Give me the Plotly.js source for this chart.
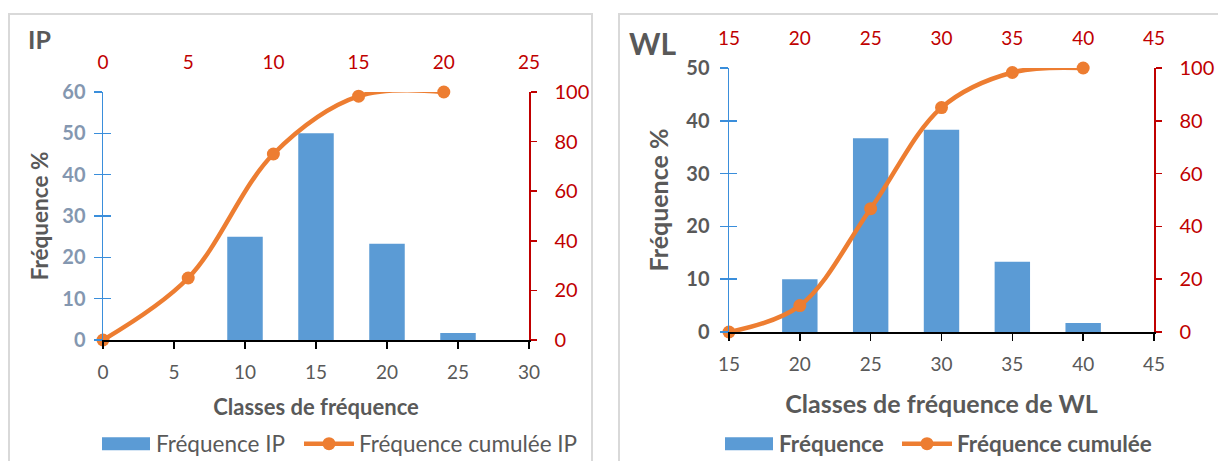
<!DOCTYPE html>
<html>
<head>
<meta charset="utf-8">
<script src="https://cdn.plot.ly/plotly-3.0.1.min.js"></script>
<style>
  html, body { margin: 0; padding: 0; background: #ffffff; }
  #chart { width: 1218px; height: 461px; }
</style>
</head>
<body>
<div id="chart"></div>
<script>
// ---- IP panel data ----
const ipClasses = [10, 15, 20, 25];
const ipFreq = [25, 50, 23.3, 1.7];
const ipCumX = [0, 5, 10, 15, 20];
const ipCum = [0, 25, 75, 98.3, 100];

// ---- WL panel data ----
const wlClasses = [20, 25, 30, 35, 40];
const wlFreq = [10, 36.7, 38.3, 13.3, 1.7];
const wlCumX = [15, 20, 25, 30, 35, 40];
const wlCum = [0, 10, 46.7, 85, 98.3, 100];

// ---- labels ----
const ipBarName = 'Fréquence IP';
const ipLineName = 'Fréquence cumulée IP';
const wlBarName = 'Fréquence';
const wlLineName = 'Fréquence cumulée';

const FONT = 'Lato, "Open Sans", sans-serif';
const GRAY = '#595959';
const RED = '#C00000';
const BLUE_AX = '#3A8EDB';
const BAR = '#5B9BD5';
const ORANGE = '#ED7D31';
const W = 1218, H = 461;
const px = v => v / W;
const py = v => 1 - v / H;

const traces = [
  { type: 'bar', x: ipClasses, y: ipFreq, width: 2.5, xaxis: 'x', yaxis: 'y',
    name: ipBarName, marker: { color: BAR }, legend: 'legend' },
  { type: 'scatter', mode: 'lines+markers', x: ipCumX, y: ipCum, xaxis: 'x2', yaxis: 'y2',
    name: ipLineName, line: { color: ORANGE, width: 4.5, shape: 'spline', smoothing: 1 },
    marker: { color: ORANGE, size: 13 }, cliponaxis: false, legend: 'legend2' },
  { type: 'bar', x: wlClasses, y: wlFreq, width: 2.5, xaxis: 'x3', yaxis: 'y3',
    name: wlBarName, marker: { color: BAR }, legend: 'legend3' },
  { type: 'scatter', mode: 'lines+markers', x: wlCumX, y: wlCum, xaxis: 'x4', yaxis: 'y4',
    name: wlLineName, line: { color: ORANGE, width: 4.5, shape: 'spline', smoothing: 1 },
    marker: { color: ORANGE, size: 13 }, cliponaxis: false, legend: 'legend4' },
  // empty helpers so the inner tick halves are drawn
  { type: 'scatter', x: [], y: [], xaxis: 'x', yaxis: 'y5', showlegend: false, hoverinfo: 'skip' },
  { type: 'scatter', x: [], y: [], xaxis: 'x3', yaxis: 'y6', showlegend: false, hoverinfo: 'skip' }
];

const domL = [px(103), px(529)];
const domLy = [py(340), py(92)];
const domR = [px(729), px(1154)];
const domRy = [py(332), py(68)];

function bottomAxis(dom, range, titleText, anchor, tsize, tstand) {
  return {
    domain: dom, range: range, anchor: anchor, tick0: 0, dtick: 5,
    showgrid: false, zeroline: false, showline: true, linecolor: '#000000', linewidth: 1.5,
    ticks: 'outside', ticklen: 7, tickwidth: 1.5, tickcolor: '#000000',
    tickfont: { family: FONT, size: 19, color: GRAY }, ticklabelstandoff: 8,
    title: { text: titleText, font: { family: FONT, size: tsize, color: GRAY, weight: 'bold' }, standoff: tstand },
    fixedrange: true
  };
}
function topAxis(over, range, anchor) {
  return {
    overlaying: over, side: 'top', anchor: anchor, range: range, tick0: 0, dtick: 5,
    showgrid: false, zeroline: false, showline: false, ticks: '',
    tickfont: { family: FONT, size: 19, color: RED }, ticklabelstandoff: 18,
    fixedrange: true
  };
}
function rightAxis(over, anchor) {
  return {
    overlaying: over, side: 'right', anchor: anchor, range: [0, 100], dtick: 20,
    showgrid: false, zeroline: false, showline: true, linecolor: RED, linewidth: 1.5,
    ticks: 'outside', ticklen: 6, tickwidth: 1.5, tickcolor: RED,
    tickfont: { family: FONT, size: 20, color: RED }, ticklabelstandoff: 14,
    fixedrange: true
  };
}
function crossAxis(over, anchor, range) {
  return {
    overlaying: over, side: 'left', anchor: anchor, range: range, dtick: 10,
    showgrid: false, zeroline: false, showline: false, showticklabels: false,
    ticks: 'inside', ticklen: 8, tickwidth: 1.5, tickcolor: BLUE_AX, fixedrange: true
  };
}
function legendAt(xpx, bold) {
  return {
    orientation: 'h', x: px(xpx), xanchor: 'left', y: py(444), yanchor: 'middle',
    font: { family: FONT, size: 22.5, color: GRAY, weight: bold ? 'bold' : 'normal' },
    bgcolor: 'rgba(0,0,0,0)', itemwidth: 50
  };
}

const layout = {
  width: W, height: H,
  margin: { l: 0, r: 0, t: 0, b: 0, autoexpand: false },
  paper_bgcolor: '#ffffff', plot_bgcolor: 'rgba(0,0,0,0)',
  font: { family: FONT, color: GRAY },
  barmode: 'overlay',
  xaxis: bottomAxis(domL, [0, 30], 'Classes de fréquence', 'y', 22, 17),
  xaxis2: topAxis('x', [0, 25], 'y'),
  yaxis: {
    domain: domLy, range: [0, 60], dtick: 10, anchor: 'x',
    showgrid: false, zeroline: false, showline: true, linecolor: BLUE_AX, linewidth: 1.5,
    ticks: 'outside', ticklen: 8, tickwidth: 1.5, tickcolor: BLUE_AX,
    tickfont: { family: FONT, size: 20, color: '#8497B0', weight: 'bold' }, ticklabelstandoff: 4,
    title: { text: 'Fréquence %', font: { family: FONT, size: 22.5, color: GRAY, weight: 'bold' }, standoff: 7 },
    fixedrange: true
  },
  yaxis2: rightAxis('y', 'x'),
  yaxis5: crossAxis('y', 'x', [0, 60]),
  xaxis3: bottomAxis(domR, [15, 45], 'Classes de fréquence de WL', 'y3', 25, 21),
  xaxis4: topAxis('x3', [15, 45], 'y3'),
  yaxis3: {
    domain: domRy, range: [0, 50], dtick: 10, anchor: 'x3',
    showgrid: false, zeroline: false, showline: true, linecolor: BLUE_AX, linewidth: 1.5,
    ticks: 'outside', ticklen: 8, tickwidth: 1.5, tickcolor: BLUE_AX,
    tickfont: { family: FONT, size: 20, color: GRAY, weight: 'bold' }, ticklabelstandoff: 6,
    title: { text: 'Fréquence %', font: { family: FONT, size: 25, color: GRAY, weight: 'bold' }, standoff: 10 },
    fixedrange: true
  },
  yaxis4: rightAxis('y3', 'x3'),
  yaxis6: crossAxis('y3', 'x3', [0, 50]),
  legend: legendAt(96, false),
  legend2: legendAt(299, false),
  legend3: legendAt(719, true),
  legend4: legendAt(897, true),
  shapes: [
    { type: 'rect', xref: 'paper', yref: 'paper', x0: px(9), x1: px(592), y0: -0.2, y1: py(14),
      line: { color: '#D9D9D9', width: 2 }, layer: 'below' },
    { type: 'rect', xref: 'paper', yref: 'paper', x0: px(619), x1: 1.2, y0: -0.2, y1: py(14),
      line: { color: '#D9D9D9', width: 2 }, layer: 'below' }
  ],
  annotations: [
    { text: 'IP', xref: 'paper', yref: 'paper', x: px(26), y: py(39), xanchor: 'left', yanchor: 'middle',
      showarrow: false, font: { family: FONT, size: 25, color: GRAY, weight: 'bold' } },
    { text: 'WL', xref: 'paper', yref: 'paper', x: px(627), y: py(43), xanchor: 'left', yanchor: 'middle',
      showarrow: false, font: { family: FONT, size: 30, color: GRAY, weight: 'bold' } }
  ],
  showlegend: true
};

const gd = document.getElementById('chart');
function widenSwatches() {
  // widen the bar legend swatches to the wide Excel-style rectangle
  gd.querySelectorAll('.legendpoints path').forEach(function (p) {
    const d = p.getAttribute('d') || '';
    if (/^M6,6H-6V-6H6Z$/.test(d.replace(/\s/g, ''))) {
      p.setAttribute('d', 'M24,6.5H-24V-6.5H24Z');
    }
  });
}
Plotly.newPlot(gd, traces, layout, { displayModeBar: false, staticPlot: true }).then(function () {
  widenSwatches();
  gd.on('plotly_afterplot', widenSwatches);
  setTimeout(widenSwatches, 50);
});
</script>
</body>
</html>
